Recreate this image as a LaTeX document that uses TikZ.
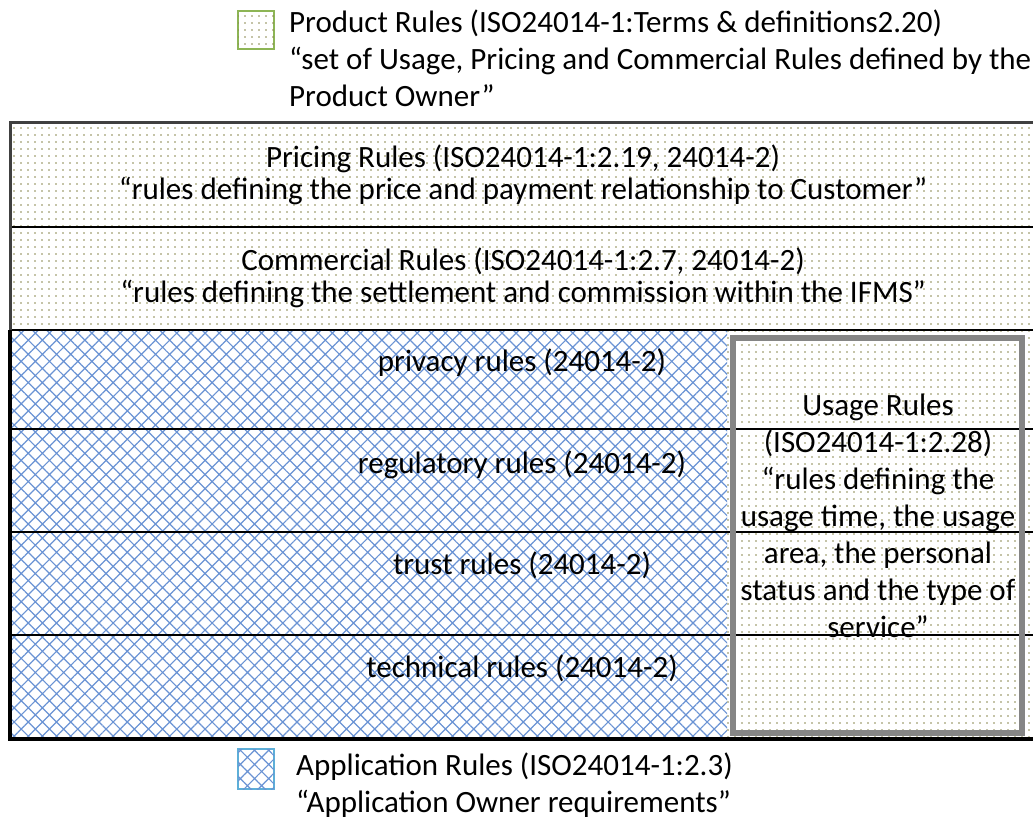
\documentclass[tikz,border=0pt]{standalone}
\usepackage{fontspec}
\setmainfont{Carlito}
\usetikzlibrary{patterns.meta}
\definecolor{dotc}{HTML}{8A8850}
\definecolor{hatchc}{HTML}{6A93D4}
\definecolor{greenb}{HTML}{8DB555}
\definecolor{blueb}{HTML}{5DAFD8}
\definecolor{grayb}{HTML}{858585}
\tikzset{
  dotfill/.style={pattern={Dots[distance=7pt,radius=0.85pt]},pattern color=dotc},
  hatchfill/.style={pattern={Hatch[angle=45,distance=10pt,line width=1.2pt]},pattern color=hatchc},
  txt/.style={inner sep=0pt,font=\fontsize{31}{37}\selectfont,align=center},
  ttxt/.style={inner sep=0pt,font=\fontsize{31}{32}\selectfont,align=center},
  ltxt/.style={inner sep=0pt,font=\fontsize{31}{37}\selectfont,align=left,anchor=north west},
  rowline/.style={line width=2pt,black},
}
\begin{document}
\begin{tikzpicture}[x=1pt,y=-1pt]
\useasboundingbox (0,0) rectangle (1033,821);
\clip (0,0) rectangle (1033,821);
% fills
\path[fill=white] (10,123) rectangle (1045,739);
\path[dotfill] (10,123) rectangle (1045,330);
\path[hatchfill] (10,330) rectangle (727,739);
\path[dotfill] (727,330) rectangle (1045,739);
% row lines
\draw[rowline] (10,227) -- (1045,227);
\draw[rowline] (10,330) -- (1045,330);
\draw[rowline] (10,429) -- (1045,429);
\draw[rowline] (10,532) -- (1045,532);
\draw[rowline] (10,635) -- (1045,635);
% frame
\draw[line width=3pt,black!75] (10,739) -- (10,123) -- (1045,123);
\draw[line width=4pt,black] (10,330) -- (10,739) -- (1045,739);
% usage box
\draw[line width=6pt,grayb] (733,338) rectangle (1022,733);
% texts
\node[ttxt] (pricing) at (523,177) {\strut Pricing Rules (ISO24014-1:2.19, 24014-2)\\\strut “rules defining the price and payment relationship to Customer”};
\node[ttxt] (commercial) at (523,280) {\strut Commercial Rules (ISO24014-1:2.7, 24014-2)\\\strut “rules defining the settlement and commission within the IFMS”};
\node[txt] (privacy) at (522,364) {\strut privacy rules (24014-2)};
\node[txt] (regulatory) at (522,466) {\strut regulatory rules (24014-2)};
\node[txt] (trust) at (522,567) {\strut trust rules (24014-2)};
\node[txt] (technical) at (522,670) {\strut technical rules (24014-2)};
\node[txt] (usage) at (878,519) {\strut Usage Rules\\\strut (ISO24014-1:2.28)\\\strut “rules defining the\\\strut usage time, the usage\\\strut area, the personal\\\strut status and the type of\\\strut service”};
% legends
\path[fill=white,draw=greenb,line width=2pt] (238,11) rectangle (274,49);
\path[dotfill] (238,11) rectangle (274,49);
\node[ltxt] (prodleg) at (289,6) {\strut Product Rules (ISO24014-1:Terms \& definitions2.20)\\\strut “set of Usage, Pricing and Commercial Rules defined by the\\\strut Product Owner”};
\path[fill=white,draw=blueb,line width=2pt] (238,749) rectangle (274,789);
\path[hatchfill] (238,749) rectangle (274,789);
\node[ltxt] (appleg) at (296,749) {\strut Application Rules (ISO24014-1:2.3)\\\strut “Application Owner requirements”};
\end{tikzpicture}
\end{document}
